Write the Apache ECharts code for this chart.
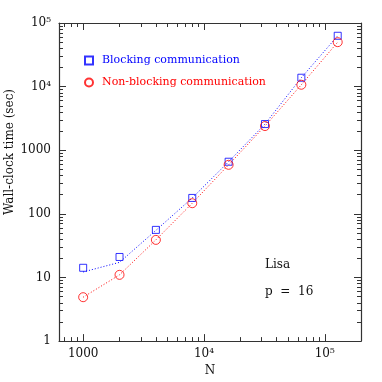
<!DOCTYPE html>
<html>
<head>
<meta charset="utf-8">
<script src="https://cdn.jsdelivr.net/npm/echarts@6/dist/echarts.min.js"></script>
<style>html,body{margin:0;padding:0;background:#fff}#c{width:382px;height:382px}</style>
</head>
<body>
<div id="c"></div>
<script>
const N = [1000, 2000, 4000, 8000, 16000, 32000, 64000, 128000];
const blocking = [14.2, 21, 56, 178, 660, 2580, 13800, 63000];
const nonBlocking = [4.9, 11, 39, 147, 590, 2400, 10700, 50000];
const blockingFit = [12.2, 17.3, 55, 178, 660, 2580, 13800, 63000];
const nonBlockingFit = [4.9, 11, 39, 147, 590, 2400, 10700, 50000];

const xMajorTicks = [1000, 10000, 100000];
const xMajorLabels = ['1000', '10⁴', '10⁵'];
const xMinorTicks = [700, 800, 900, 2000, 3000, 4000, 5000, 6000, 7000, 8000, 9000,
  20000, 30000, 40000, 50000, 60000, 70000, 80000, 90000];
const yMajorTicks = [1, 10, 100, 1000, 10000, 100000];
const yMajorLabels = ['1', '10', '100', '1000', '10⁴', '10⁵'];
const yMinorTicks = [2, 3, 4, 5, 6, 7, 8, 9, 20, 30, 40, 50, 60, 70, 80, 90,
  200, 300, 400, 500, 600, 700, 800, 900, 2000, 3000, 4000, 5000, 6000, 7000, 8000, 9000,
  20000, 30000, 40000, 50000, 60000, 70000, 80000, 90000];

const xMin = Math.pow(10, 2.8), xMax = Math.pow(10, 5.3);
const yMin = 1, yMax = 100000;
const FONT = 'DejaVu Serif';
const AX = '#333';
const BLUE = '#0000ff', RED = '#ff0000';

function fmt(ticks, labels) {
  return function (v) {
    for (let i = 0; i < ticks.length; i++) {
      if (Math.abs(v - ticks[i]) / ticks[i] < 1e-6) return labels[i];
    }
    return '';
  };
}

function axis(dim, position, ticks, len, line, labels) {
  const a = {
    type: 'log', position: position,
    min: dim === 'x' ? xMin : yMin, max: dim === 'x' ? xMax : yMax,
    axisLine: { show: line, lineStyle: { color: AX, width: 1.2 } },
    axisTick: { inside: true, length: len, customValues: ticks.slice(), lineStyle: { color: AX, width: 1 } },
    axisLabel: { show: false },
    splitLine: { show: false }
  };
  if (labels) {
    a.axisLabel = {
      show: true, customValues: ticks.slice(), formatter: fmt(ticks.slice(), labels),
      color: '#111', fontFamily: FONT, fontSize: 12, margin: dim === 'x' ? 7 : 8
    };
  }
  return a;
}

const xAxes = [
  axis('x', 'bottom', xMajorTicks, 7, true, xMajorLabels),
  axis('x', 'bottom', xMinorTicks, 4, false, null),
  axis('x', 'top', xMajorTicks, 7, true, null),
  axis('x', 'top', xMinorTicks, 4, false, null)
];
xAxes[0].name = 'N';
xAxes[0].nameLocation = 'middle';
xAxes[0].nameGap = 21;
xAxes[0].nameTextStyle = { fontFamily: FONT, fontSize: 12, color: '#111' };

const yAxes = [
  axis('y', 'left', yMajorTicks, 7, true, yMajorLabels),
  axis('y', 'left', yMinorTicks, 4, false, null),
  axis('y', 'right', yMajorTicks, 7, true, null),
  axis('y', 'right', yMinorTicks, 4, false, null)
];

function pairs(xs, ys) { return xs.map((x, i) => [x, ys[i]]); }

const chart = echarts.init(document.getElementById('c'), null, { renderer: 'canvas' });
chart.setOption({
  animation: false,
  backgroundColor: '#fff',
  grid: { left: 59, right: 21, top: 23, bottom: 35 },
  xAxis: xAxes,
  yAxis: yAxes,
  legend: {
    orient: 'vertical', left: 84, top: 55, padding: 0, itemWidth: 8, itemHeight: 8, itemGap: 11,
    selectedMode: false,
    textStyle: { fontFamily: FONT, fontSize: 11, padding: [0, 0, 0, 4] },
    data: [
      { name: 'Blocking communication', textStyle: { color: BLUE } },
      { name: 'Non-blocking communication', textStyle: { color: RED } }
    ]
  },
  graphic: [
    { type: 'text', x: 10, y: 152, rotation: Math.PI / 2,
      style: { text: 'Wall-clock time (sec)', fill: '#111', font: '12px "DejaVu Serif"', align: 'center', verticalAlign: 'middle' } },
    { type: 'text', x: 265, y: 265,
      style: { text: 'Lisa', fill: '#111', font: '12px "DejaVu Serif"', align: 'left', verticalAlign: 'middle' } },
    { type: 'text', x: 265, y: 292,
      style: { text: 'p  =  16', fill: '#111', font: '12px "DejaVu Serif"', align: 'left', verticalAlign: 'middle' } }
  ],
  series: [
    { name: 'blockingFit', type: 'line', data: pairs(N, blockingFit), symbol: 'none', silent: true,
      lineStyle: { color: BLUE, width: 1, type: [1, 2] }, z: 1 },
    { name: 'nonBlockingFit', type: 'line', data: pairs(N, nonBlockingFit), symbol: 'none', silent: true,
      lineStyle: { color: RED, width: 1, type: [1, 2] }, z: 1 },
    { name: 'Blocking communication', type: 'scatter', data: pairs(N, blocking), symbol: 'rect', symbolSize: 7,
      itemStyle: { color: 'rgba(0,0,0,0)', borderColor: BLUE, borderWidth: 1 }, z: 3 },
    { name: 'Non-blocking communication', type: 'scatter', data: pairs(N, nonBlocking), symbol: 'circle', symbolSize: 9,
      itemStyle: { color: 'rgba(0,0,0,0)', borderColor: RED, borderWidth: 1 }, z: 3 }
  ]
});
</script>
</body>
</html>
